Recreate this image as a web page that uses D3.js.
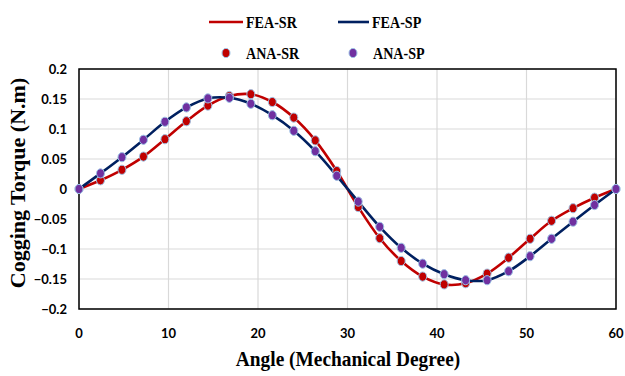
<!DOCTYPE html>
<html>
<head>
<meta charset="utf-8">
<script src="https://cdn.jsdelivr.net/npm/d3@7"></script>
<style>
  body { margin: 0; background: #fff; }
  svg { display: block; }
</style>
</head>
<body>
<svg id="chart"></svg>
<script>
// angles in mechanical degrees (markers every 2.4 deg)
const angles = [0, 2.4, 4.8, 7.2, 9.6, 12, 14.4, 16.8, 19.2, 21.6, 24, 26.4, 28.8,
  31.2, 33.6, 36, 38.4, 40.8, 43.2, 45.6, 48, 50.4, 52.8, 55.2, 57.6, 60];

// FEA curves (lines)
const feaSR = [0, 0.0145, 0.032, 0.054, 0.083, 0.113, 0.139, 0.155, 0.158, 0.145, 0.119, 0.081, 0.030,
  -0.030, -0.082, -0.120, -0.146, -0.159, -0.157, -0.141, -0.1145, -0.083, -0.053, -0.032, -0.0145, 0];
const feaSP = [0, 0.026, 0.053, 0.082, 0.112, 0.136, 0.151, 0.152, 0.142, 0.123, 0.097, 0.063, 0.022,
  -0.021, -0.063, -0.098, -0.1245, -0.142, -0.152, -0.152, -0.137, -0.112, -0.083, -0.0545, -0.0267, 0];

// analytical results (markers)
const anaSR = [0, 0.0145, 0.032, 0.054, 0.083, 0.113, 0.139, 0.155, 0.158, 0.145, 0.119, 0.081, 0.030,
  -0.030, -0.082, -0.120, -0.146, -0.159, -0.157, -0.141, -0.1145, -0.083, -0.053, -0.032, -0.0145, 0];
const anaSP = [0, 0.026, 0.053, 0.082, 0.112, 0.136, 0.151, 0.152, 0.142, 0.123, 0.097, 0.063, 0.022,
  -0.021, -0.063, -0.098, -0.1245, -0.142, -0.152, -0.152, -0.137, -0.112, -0.083, -0.0545, -0.0267, 0];

const xTicks = [0, 10, 20, 30, 40, 50, 60];
const yTicks = [-0.2, -0.15, -0.1, -0.05, 0, 0.05, 0.1, 0.15, 0.2];

const width = 625, height = 376;
const RED = "#C00000", NAVY = "#002060", PURPLE = "#7030A0", RIM = "#9DC3E6";
const serif = "'Liberation Serif', 'Times New Roman', serif";
const sans = "Lato, 'Open Sans', sans-serif";
const squish = 0.88; // reference text looks horizontally compressed

const svg = d3.select("#chart").attr("width", width).attr("height", height);

const x = d3.scaleLinear().domain([0, 60]).range([79, 616]);
const y = d3.scaleLinear().domain([-0.2, 0.2]).range([309, 69]);

// gridlines
svg.append("g").selectAll("line").data(yTicks).enter().append("line")
  .attr("x1", x(0)).attr("x2", x(60))
  .attr("y1", d => y(d)).attr("y2", d => y(d))
  .attr("stroke", "#D9D9D9").attr("stroke-width", 1.2);
svg.append("g").selectAll("line").data(xTicks).enter().append("line")
  .attr("x1", d => x(d)).attr("x2", d => x(d))
  .attr("y1", y(0.2)).attr("y2", y(-0.2))
  .attr("stroke", "#D9D9D9").attr("stroke-width", 1.2);

// plot border
svg.append("rect")
  .attr("x", x(0)).attr("y", y(0.2))
  .attr("width", x(60) - x(0)).attr("height", y(-0.2) - y(0.2))
  .attr("fill", "none").attr("stroke", "#000").attr("stroke-width", 1.5);

// tick labels
svg.append("g").selectAll("text").data(yTicks).enter().append("text")
  .attr("x", 67).attr("y", d => y(d)).attr("dy", "0.35em")
  .attr("text-anchor", "end")
  .style("font-family", sans).style("font-weight", "bold").style("font-size", "13px")
  .text(d => d3.format("")(d));

svg.append("g").selectAll("text").data(xTicks).enter().append("text")
  .attr("x", d => x(d)).attr("y", 338)
  .attr("text-anchor", "middle")
  .style("font-family", sans).style("font-weight", "bold").style("font-size", "13px")
  .text(d => d);

// axis titles
svg.append("text")
  .attr("transform", `translate(348, 366) scale(${squish}, 1)`)
  .attr("text-anchor", "middle")
  .style("font-family", serif).style("font-weight", "bold").style("font-size", "22px")
  .text("Angle (Mechanical Degree)");

svg.append("text")
  .attr("transform", `translate(25, 183) rotate(-90)`)
  .attr("text-anchor", "middle")
  .style("font-family", serif).style("font-weight", "bold").style("font-size", "22px")
  .text("Cogging Torque (N.m)");

// lines
const line = d3.line().x(d => x(d[0])).y(d => y(d[1])).curve(d3.curveCatmullRom);

const series = [
  { name: "FEA-SR", vals: feaSR, color: RED },
  { name: "FEA-SP", vals: feaSP, color: NAVY }
];
series.forEach(s => {
  svg.append("path")
    .datum(angles.map((a, i) => [a, s.vals[i]]))
    .attr("d", line)
    .attr("fill", "none").attr("stroke", s.color).attr("stroke-width", 2.6);
});

// markers
const markers = [
  { name: "ANA-SR", vals: anaSR, color: RED },
  { name: "ANA-SP", vals: anaSP, color: PURPLE }
];
markers.forEach(m => {
  svg.append("g").selectAll("ellipse")
    .data(angles.map((a, i) => [a, m.vals[i]]))
    .enter().append("ellipse")
    .attr("cx", d => x(d[0])).attr("cy", d => y(d[1]))
    .attr("rx", 4).attr("ry", 4.6)
    .attr("fill", m.color).attr("stroke", RIM).attr("stroke-width", 1);
});

// legend
const legend = svg.append("g");
const legendText = (tx, ty, label) => legend.append("text")
  .attr("transform", `translate(${tx}, ${ty}) scale(${squish}, 1)`)
  .style("font-family", serif).style("font-weight", "bold").style("font-size", "16px")
  .text(label);

legend.append("line").attr("x1", 209).attr("x2", 243).attr("y1", 22).attr("y2", 22)
  .attr("stroke", RED).attr("stroke-width", 2.6);
legendText(246, 28, "FEA-SR");
legend.append("line").attr("x1", 338).attr("x2", 369).attr("y1", 22).attr("y2", 22)
  .attr("stroke", NAVY).attr("stroke-width", 2.6);
legendText(372, 28, "FEA-SP");

legend.append("ellipse").attr("cx", 226).attr("cy", 53).attr("rx", 4).attr("ry", 4.6)
  .attr("fill", RED).attr("stroke", RIM).attr("stroke-width", 1);
legendText(246, 59, "ANA-SR");
legend.append("ellipse").attr("cx", 353).attr("cy", 53).attr("rx", 4).attr("ry", 4.6)
  .attr("fill", PURPLE).attr("stroke", RIM).attr("stroke-width", 1);
legendText(373, 59, "ANA-SP");
</script>
</body>
</html>
